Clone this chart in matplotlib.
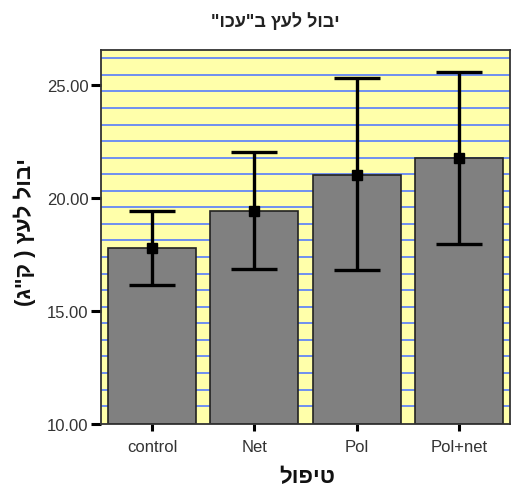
import numpy as np
import matplotlib
matplotlib.use("Agg")
import matplotlib.pyplot as plt

plt.rcParams['font.family'] = ['Liberation Sans', 'DejaVu Sans']

# data
groups = ['control', 'Net', 'Pol', 'Pol+net']
means = [17.80, 19.42, 21.02, 21.77]
ci_low = [16.16, 16.86, 16.81, 17.95]
ci_high = [19.44, 22.02, 25.30, 25.58]
y_ticks = [10, 15, 20, 25]

# Hebrew strings, given in visual (left-to-right) order since matplotlib has no bidi
title = '"וכע"ב ץעל לובי'      # יבול לעץ ב"עכו"
ylabel = '(ג"ק ) ץעל לובי'     # יבול לעץ ( ק"ג)
xlabel = 'לופיט'               # טיפול

fig = plt.figure(figsize=(5.11, 4.89), dpi=100, facecolor='white')
ax = fig.add_axes([0.1977, 0.1309, 0.8004, 0.7648])
ax.set_facecolor('#ffffaa')

x = np.arange(len(groups))
ax.set_xlim(-0.5, len(groups) - 0.5)
ax.set_ylim(10, 26.55)

# background guide lines
for g in np.arange(10.79, 26.25, 0.733):
    ax.axhline(g, color='#6f8ff0', lw=1.4, zorder=1)

ax.bar(x, np.array(means) - 10, bottom=10, width=0.86, color='#808080',
       edgecolor='#222222', linewidth=1.2, zorder=2)

yerr = [np.array(means) - np.array(ci_low), np.array(ci_high) - np.array(means)]
ax.errorbar(x, means, yerr=yerr, fmt='s', color='black', ms=7,
            elinewidth=2.4, capsize=16.5, capthick=2.4, zorder=3)

ax.set_yticks(y_ticks)
ax.set_yticklabels([f'{v:.2f}' for v in y_ticks])
ax.set_xticks(x)
ax.set_xticklabels(groups)
ax.tick_params(axis='y', length=7, width=2.2, pad=2, labelsize=12, labelcolor='#333333')
ax.tick_params(axis='x', length=5, width=2.2, pad=6, labelsize=12, labelcolor='#333333')

for s in ax.spines.values():
    s.set_color('#333333')
    s.set_linewidth(1.3)

fig.text(275 / 511, 1 - 22 / 489, title, ha='center', va='center',
         fontsize=13, fontweight='bold', color='#222222')
fig.text(25 / 511, 1 - 232 / 489, ylabel, ha='center', va='center',
         rotation=90, fontsize=16, fontweight='bold', color='#111111')
fig.text(307 / 511, 1 - 478 / 489, xlabel, ha='center', va='center',
         fontsize=16, fontweight='bold', color='#111111')

fig.savefig('out.png', dpi=100)
